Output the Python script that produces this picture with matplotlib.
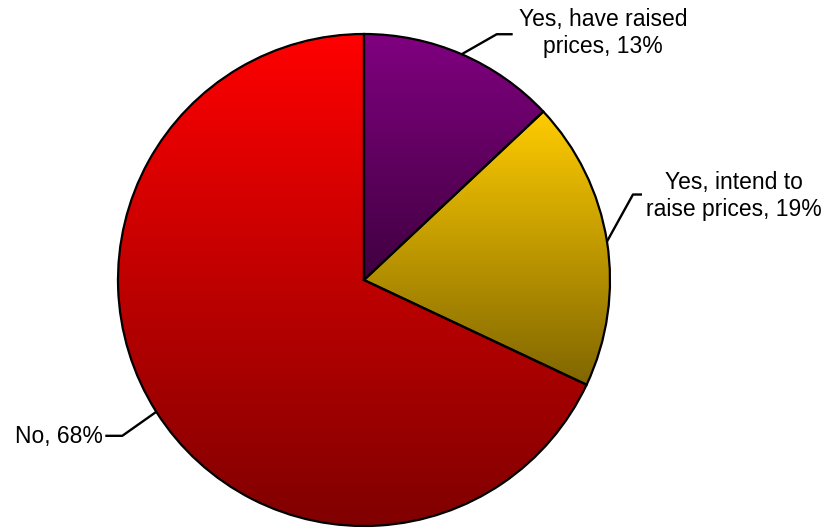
import numpy as np
import matplotlib
matplotlib.use('Agg')
from matplotlib import pyplot as plt

# Survey answers, shares in percent (clockwise from 12 o'clock)
labels = ['Yes, have raised\nprices', 'Yes, intend to\nraise prices', 'No']
shares = [13, 19, 68]

# top / bottom colours of each slice gradient
top_colors = [(128, 0, 128), (255, 204, 0), (255, 0, 0)]
bottom_colors = [(64, 0, 64), (128, 102, 0), (128, 0, 0)]

plt.rcParams['font.family'] = ['Liberation Sans', 'DejaVu Sans']

W, H = 831, 528
fig = plt.figure(figsize=(W / 100, H / 100), dpi=100)
ax = fig.add_axes([0, 0, 1, 1])

cx, cy, R = 364, H - 280, 246
wedges, _ = ax.pie(shares, startangle=90, counterclock=False,
                   center=(cx, cy), radius=R,
                   wedgeprops=dict(facecolor='none', edgecolor='black',
                                   linewidth=1.6, zorder=3))

ax.set_xlim(0, W)
ax.set_ylim(0, H)
ax.set_aspect('equal')
ax.axis('off')

# vertical gradient fill, clipped to each wedge
for w, c0, c1 in zip(wedges, top_colors, bottom_colors):
    th = np.radians(np.linspace(w.theta1, w.theta2, 300))
    xs = np.concatenate([[cx], cx + R * np.cos(th)])
    ys = np.concatenate([[cy], cy + R * np.sin(th)])
    t = np.linspace(0, 1, 256)[:, None]
    c0 = np.array(c0) / 255
    c1 = np.array(c1) / 255
    grad = (c1 * (1 - t) + c0 * t)[:, None, :]
    im = ax.imshow(grad, extent=[xs.min(), xs.max(), ys.min(), ys.max()],
                   origin='lower', aspect='auto', interpolation='bilinear',
                   zorder=2)
    im.set_clip_path(w)

# leader lines and labels: (elbow dx, elbow dy, end dx, text x, text y, ha)
label_layout = [
    (35, 20, 16, 603, H - 33, 'center'),
    (26, 47, 9, 734, H - 196, 'center'),
    (-34, -24, -17, 103, H - 436, 'right'),
]

for w, lab, pct, (ex, ey, dx, tx, ty, ha) in zip(wedges, labels, shares, label_layout):
    mid = np.radians((w.theta1 + w.theta2) / 2)
    x0 = cx + R * np.cos(mid)
    y0 = cy + R * np.sin(mid)
    x1, y1 = x0 + ex, y0 + ey
    ax.plot([x0, x1, x1 + dx], [y0, y1, y1], color='black', lw=1.7,
            zorder=4, solid_capstyle='butt')
    ax.text(tx, ty, f'{lab}, {pct}%', ha=ha, va='center', fontsize=16.5,
            multialignment='center', linespacing=1.2)

plt.savefig('out.png', dpi=100)
